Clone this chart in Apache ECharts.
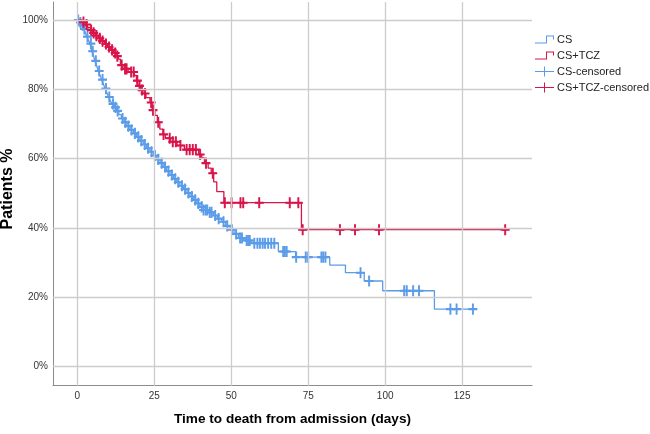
<!DOCTYPE html>
<html>
<head>
<meta charset="utf-8" />
<title>Kaplan-Meier CS vs CS+TCZ</title>
<script src="https://cdn.jsdelivr.net/npm/echarts@6/dist/echarts.min.js"></script>
<style>
  html, body { margin: 0; padding: 0; background: #fff; }
  #chart { width: 650px; height: 434px; }
</style>
</head>
<body>
<div id="chart"></div>
<script>
// step points: time (days) and survival (%) just after the drop
const csTime = [0, 0.8, 1.4, 2, 2.6, 3.1, 3.6, 4.1, 4.7, 5.2, 5.7, 6.3, 6.8, 7.4, 7.9, 8.5, 9, 9.6, 10.1, 10.7,
  11.3, 12, 12.8, 13.5, 14.3, 15.2, 16.1, 17.1, 18.2, 19.3, 20.3, 21.4, 22.5, 23.6, 24.7, 25.8, 26.9, 27.9, 29, 30.1,
  31.2, 32.3, 33.3, 34.5, 35.6, 36.6, 37.7, 38.8, 39.8, 40.9, 42.5, 44.2, 45.5, 46.9, 48.2, 49.6, 50.9, 52.3, 54, 56.5,
  65.3, 70.9, 82, 87.1, 93.2, 99.2, 116];
const csSurv = [100, 99.3, 98.5, 97.4, 96.3, 95.2, 94.2, 93.2, 91, 89.8, 88.2, 86.8, 85.3, 84, 82.8, 81.5, 80.2, 79, 77.8, 76.8,
  75.8, 74.8, 73.8, 72.7, 71.6, 70.5, 69.4, 68.3, 67.3, 66.3, 65.2, 64.1, 63, 62, 60.9, 59.8, 58.7, 57.6, 56.4, 55.3,
  54.2, 53.2, 52.2, 51.2, 50.1, 49.1, 48.1, 47.1, 46.1, 45.2, 44.5, 43.6, 42.7, 41.8, 40.6, 39.5, 38.3, 37.1, 36.4, 35.6,
  33.2, 31.6, 29.3, 27.1, 24.7, 21.9, 16.6];
const csCensor = [0.3, 1, 1.7, 2.3, 3.3, 4.4, 5, 6, 7.1, 8.2, 9.3, 10.4, 11.6, 12.4, 13.1, 14.7, 15.6, 16.6, 17.6, 18.7,
  19.8, 20.8, 21.9, 23, 24.1, 25.2, 26.3, 27.4, 28.5, 29.6, 30.7, 31.8, 32.8, 34, 35, 36.1, 37.2, 38.3, 39.3, 40.4,
  41, 41.7, 42.2, 43, 43.6, 44.8, 45.9, 47.5, 48.7, 50.2, 51.6, 52.9, 53.5, 55, 55.5, 56, 57.5, 58.5, 59.3, 60.2,
  61, 62, 63, 64, 66.9, 67.4, 68, 71.1, 74.2, 75, 79.3, 79.9, 80.6, 92, 94.8, 106.2, 107, 109.1, 111, 121.2,
  123.2, 128.5];

const tczTime = [0, 1.5, 2.5, 3.3, 4.2, 5, 5.8, 6.8, 7.8, 8.8, 9.8, 10.8, 11.8, 12.6, 13.3, 14, 14.8, 16.5, 18.5, 19.2,
  19.8, 20.5, 21.3, 22.3, 23.6, 24.3, 25.2, 26, 26.8, 27.8, 28.6, 30.2, 32.4, 34.8, 39.4, 40.4, 41.3, 42.5, 43.5, 44.3,
  45.3, 47.6, 72.8];
const tczSurv = [100, 99.4, 98.7, 97.9, 97.1, 96.3, 95.5, 94.7, 93.9, 93.1, 92.2, 91.4, 90.5, 89.6, 88.7, 87, 85.9, 85, 84, 82.5,
  81, 79.8, 78.8, 77.6, 76.2, 74, 72.5, 70.5, 68.5, 67, 65.9, 64.9, 63.8, 62.6, 61.2, 60.2, 58.7, 57.3, 55.8, 53.3,
  50.5, 47.3, 39.5];
const tczCensor = [2, 3, 4.5, 5.3, 6.2, 7.3, 8.2, 9.3, 10.3, 11.3, 12.3, 13, 14.4, 15.5, 16, 17.5, 18.3, 19.5, 20.2, 21,
  22, 24, 24.6, 26.3, 28, 30, 31, 32, 33.5, 35.5, 36.5, 37.5, 38.5, 39.9, 41.8, 44, 47.9, 50.1, 53, 53.9,
  59.1, 69, 71.8, 73.2, 85.3, 90.2, 98, 139];

const xTicks = [0, 25, 50, 75, 100, 125];
const yTicks = [0, 20, 40, 60, 80, 100];

const BLUE = '#5b9ce8';
const RED = '#d8144a';

// value of the step curve at day t
function survAt(times, surv, t) {
  let v = surv[0];
  for (let i = 0; i < times.length; i++) {
    if (times[i] <= t) v = surv[i];
  }
  return v;
}

function stepData(times, surv, censor) {
  const pts = times.map(function (t, i) { return [t, surv[i]]; });
  const last = censor[censor.length - 1];
  pts.push([last, survAt(times, surv, last)]);
  return pts;
}

function censorData(times, surv, censor) {
  return censor.map(function (t) { return [t, survAt(times, surv, t)]; });
}

const PLUS = 'path://M-0.5,-5H0.5V-0.5H4V0.5H0.5V5H-0.5V0.5H-4V-0.5H-0.5Z';
const STEP_ICON = 'path://M0,8H11V1H19V5H18V2H12V9H0Z';
const PLUS_ICON = 'path://M9,0H10V4.5H19V5.5H10V10H9V5.5H0V4.5H9Z';

const chart = echarts.init(document.getElementById('chart'), null, { renderer: 'canvas' });

const option = {
  animation: false,
  textStyle: { fontFamily: 'Liberation Sans, Arial, sans-serif' },
  grid: { left: 53, right: 118, top: 2, bottom: 48.3, containLabel: false, outerBoundsMode: 'none' },
  // y axis title
  graphic: [{
    type: 'text',
    x: 8,
    y: 189,
    rotation: Math.PI / 2,
    style: {
      text: 'Patients %',
      font: 'bold 16px Liberation Sans, Arial, sans-serif',
      fill: '#000',
      align: 'center',
      verticalAlign: 'middle'
    }
  }],
  legend: {
    orient: 'vertical',
    left: 535,
    top: 34,
    padding: 0,
    itemWidth: 19,
    itemHeight: 10,
    itemGap: 5,
    textStyle: { fontSize: 11, color: '#222', padding: [0, 0, 0, -2] },
    data: [
      { name: 'CS', icon: STEP_ICON, itemStyle: { color: BLUE, borderWidth: 0 }, lineStyle: { opacity: 0, width: 0 } },
      { name: 'CS+TCZ', icon: STEP_ICON, itemStyle: { color: RED, borderWidth: 0 }, lineStyle: { opacity: 0, width: 0 } },
      { name: 'CS-censored', icon: PLUS_ICON, itemStyle: { color: BLUE, borderColor: BLUE, borderWidth: 0, opacity: 1 } },
      { name: 'CS+TCZ-censored', icon: PLUS_ICON, itemStyle: { color: RED, borderColor: RED, borderWidth: 0, opacity: 1 } }
    ]
  },
  xAxis: {
    type: 'value',
    min: -7.9,
    max: 147.7,
    name: 'Time to death from admission (days)',
    nameLocation: 'middle',
    nameGap: 27,
    nameTextStyle: { fontSize: 13.6, fontWeight: 'bold', color: '#000' },
    axisLine: { show: true, onZero: false, lineStyle: { color: '#8c8c8c', width: 1 } },
    axisTick: { show: false },
    splitLine: { show: false },
    axisLabel: {
      customValues: xTicks,
      fontSize: 10,
      color: '#333',
      margin: 6
    }
  },
  yAxis: {
    type: 'value',
    min: -5.5,
    max: 105.2,
    axisLine: { show: true, onZero: false, lineStyle: { color: '#8c8c8c', width: 1 } },
    axisTick: { show: false },
    splitLine: { show: false },
    axisLabel: {
      customValues: yTicks,
      fontSize: 10,
      color: '#333',
      margin: 5,
      formatter: '{value}%'
    }
  },
  series: [
    {
      name: 'gridlines',
      type: 'line',
      data: [],
      z: 1,
      silent: true,
      markLine: {
        silent: true,
        symbol: 'none',
        label: { show: false },
        lineStyle: { color: '#cccccc', width: 1.3, type: 'solid' },
        emphasis: { disabled: true },
        data: xTicks.map(function (v) { return { xAxis: v }; })
          .concat(yTicks.map(function (v) { return { yAxis: v }; }))
      }
    },
    {
      name: 'CS',
      type: 'line',
      step: 'end',
      z: 3,
      showSymbol: false,
      color: BLUE,
      lineStyle: { color: BLUE, width: 1.3 },
      data: stepData(csTime, csSurv, csCensor)
    },
    {
      name: 'CS+TCZ',
      type: 'line',
      step: 'end',
      z: 4,
      showSymbol: false,
      color: RED,
      lineStyle: { color: RED, width: 1.3 },
      data: stepData(tczTime, tczSurv, tczCensor)
    },
    {
      name: 'CS-censored',
      type: 'scatter',
      z: 3,
      symbol: PLUS,
      symbolSize: [8, 10],
      color: BLUE,
      itemStyle: { color: BLUE, borderColor: BLUE, opacity: 1 },
      data: censorData(csTime, csSurv, csCensor)
    },
    {
      name: 'CS+TCZ-censored',
      type: 'scatter',
      z: 4,
      symbol: PLUS,
      symbolSize: [8, 10],
      color: RED,
      itemStyle: { color: RED, borderColor: RED, opacity: 1 },
      data: censorData(tczTime, tczSurv, tczCensor)
    }
  ]
};

chart.setOption(option);
window.onresize = function () { chart.resize(); };
</script>
</body>
</html>
